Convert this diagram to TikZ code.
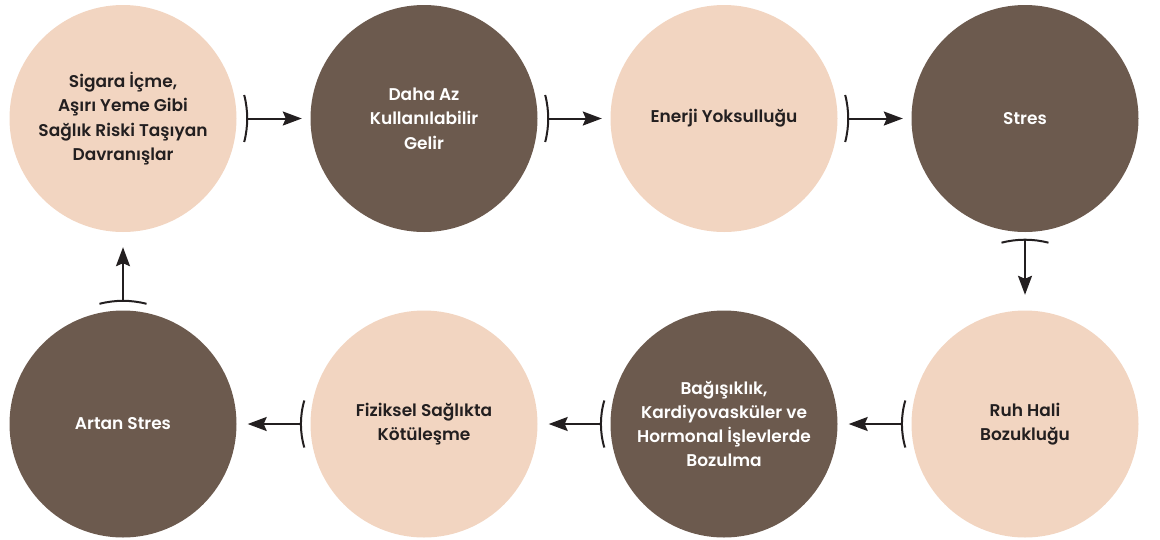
\documentclass[tikz,border=0pt]{standalone}
\usepackage{fontspec}
\setmainfont{Poppins}[UprightFont=* SemiBold]
\usetikzlibrary{arrows.meta}
\definecolor{light}{HTML}{F2D5C1}
\definecolor{dark}{HTML}{6C5A4E}
\definecolor{ink}{HTML}{231F20}
\tikzset{
  circ/.style={circle, minimum size=227pt, inner sep=0pt, align=center,
    font=\fontsize{17}{24.3}\selectfont},
  lightc/.style={circ, fill=light, text=ink},
  darkc/.style={circ, fill=dark, text=white},
  arr/.style={draw=ink, line width=2pt, -{Stealth[length=19pt,width=14pt,inset=3pt]}},
  brk/.style={draw=ink, line width=2pt}
}
\begin{document}
\begin{tikzpicture}[x=1pt,y=-1pt]
\useasboundingbox (0,0) rectangle (1160,539);
\node[lightc] (c1) at (123,118.5) {Sigara İçme,\\Aşırı Yeme Gibi\\Sağlık Riski Taşıyan\\Davranışlar};
\node[darkc]  (c2) at (424,118.5) {Daha Az\\Kullanılabilir\\Gelir};
\node[lightc] (c3) at (724,118.5) {Enerji Yoksulluğu};
\node[darkc]  (c4) at (1025,118.5) {Stres};
\node[lightc] (c5) at (1025,424) {Ruh Hali\\Bozukluğu};
\node[darkc]  (c6) at (724,424) {Bağışıklık,\\Kardiyovasküler ve\\Hormonal İşlevlerde\\Bozulma};
\node[lightc] (c7) at (424,424) {Fiziksel Sağlıkta\\Kötüleşme};
\node[darkc]  (c8) at (123,424) {Artan Stres};

% top row: brackets bulging right
\foreach \s/\t in {c1/c2, c2/c3, c3/c4}{
  \draw[brk] ([shift={(7.5,-23.5)}]\s.east) .. controls ([shift={(11.5,-8)}]\s.east) and ([shift={(11.5,8)}]\s.east) .. ([shift={(7.5,23.5)}]\s.east);
  \draw[arr] ([xshift=10pt]\s.east) -- ([xshift=-8.5pt]\t.west);
}
% down arrow: bracket bulging up
\draw[brk] ([shift={(-23.5,10.5)}]c4.south) .. controls ([shift={(-8,6.5)}]c4.south) and ([shift={(8,6.5)}]c4.south) .. ([shift={(23.5,10.5)}]c4.south);
\draw[arr] ([yshift=-7.5pt]c4.south) -- ([yshift=15.5pt]c5.north);
% bottom row: brackets bulging left
\foreach \s/\t in {c5/c6, c6/c7, c7/c8}{
  \draw[brk] ([shift={(-6,-23.5)}]\s.west) .. controls ([shift={(-10.5,-8)}]\s.west) and ([shift={(-10.5,8)}]\s.west) .. ([shift={(-6,23.5)}]\s.west);
  \draw[arr] ([xshift=-9pt]\s.west) -- ([xshift=11pt]\t.east);
}
% up arrow: bracket bulging up
\draw[brk] ([shift={(-23.5,-6.5)}]c8.north) .. controls ([shift={(-8,-10.5)}]c8.north) and ([shift={(8,-10.5)}]c8.north) .. ([shift={(23.5,-6.5)}]c8.north);
\draw[arr] ([yshift=9.5pt]c8.north) -- ([yshift=-15pt]c1.south);
\end{tikzpicture}
\end{document}
